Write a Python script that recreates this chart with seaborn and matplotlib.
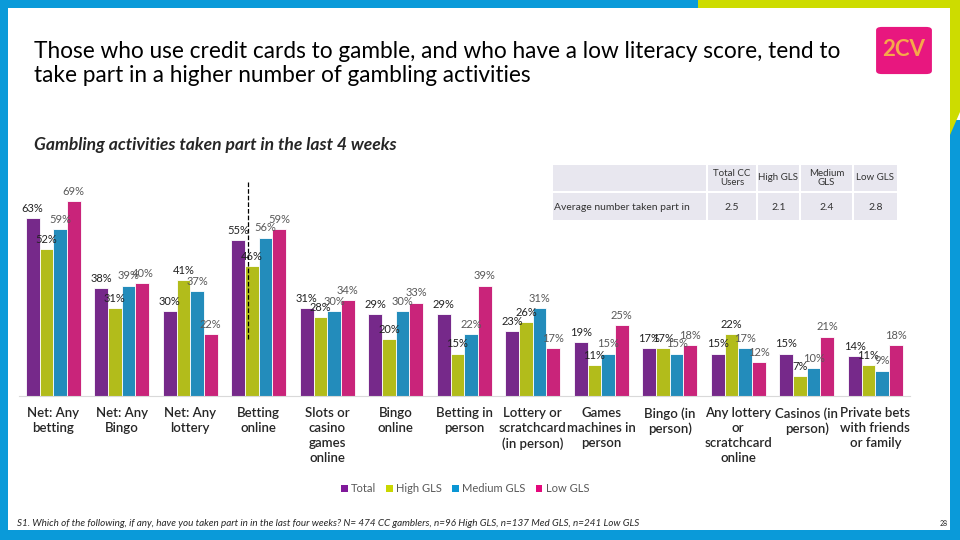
import numpy as np
import pandas as pd
import seaborn as sns
import matplotlib.pyplot as plt
from matplotlib.patches import Rectangle, Polygon, Patch, FancyBboxPatch

categorias = ["Net: Any betting", "Net: Any Bingo", "Net: Any lottery", "Betting online",
              "Slots or casino games online", "Bingo online", "Betting in person",
              "Lottery or scratchcard (in person)", "Games machines in person",
              "Bingo (in person)", "Any lottery or scratchcard online",
              "Casinos (in person)", "Private bets with friends or family"]
etiquetas = ["Net: Any\nbetting", "Net: Any\nBingo", "Net: Any\nlottery", "Betting\nonline",
             "Slots or\ncasino\ngames\nonline", "Bingo\nonline", "Betting in\nperson",
             "Lottery or\nscratchcard\n(in person)", "Games\nmachines in\nperson",
             "Bingo (in\nperson)", "Any lottery\nor\nscratchcard\nonline",
             "Casinos (in\nperson)", "Private bets\nwith friends\nor family"]
grupos = ["Total", "High GLS", "Medium GLS", "Low GLS"]
total = [63, 38, 30, 55, 31, 29, 29, 23, 19, 17, 15, 15, 14]
high_gls = [52, 31, 41, 46, 28, 20, 15, 26, 11, 17, 22, 7, 11]
medium_gls = [59, 39, 37, 56, 30, 30, 22, 31, 15, 15, 17, 10, 9]
low_gls = [69, 40, 22, 59, 34, 33, 39, 17, 25, 18, 12, 21, 18]

tabla_cols = ["Total CC\nUsers", "High GLS", "Medium\nGLS", "Low GLS"]
tabla_fila = "Average number taken part in"
promedios = [2.5, 2.1, 2.4, 2.8]

colores = ["#80199A", "#C9D700", "#0A96D4", "#E4087C"]
azul_borde = "#0A9AD9"
lima_borde = "#CDDC00"

df = pd.DataFrame({"actividad": categorias * 4,
                   "grupo": np.repeat(grupos, len(categorias)),
                   "valor": total + high_gls + medium_gls + low_gls})

sns.set_style("white")
plt.rcParams["font.family"] = ["Lato", "DejaVu Sans"]

fig = plt.figure(figsize=(9.6, 5.4), dpi=100)

def fx(x):
    return x / 960

def fy(y):
    return 1 - y / 540

ax = fig.add_axes([fx(19), fy(396), fx(890.5), 80 * 2.83 / 540])
sns.barplot(data=df, x="actividad", y="valor", hue="grupo", hue_order=grupos,
            palette=colores, width=0.8, edgecolor="white", linewidth=0.6,
            legend=False, ax=ax)
ax.set_ylim(0, 80)
ax.set_xlim(-0.5, len(categorias) - 0.5)
ax.set_xlabel("")
ax.set_ylabel("")
ax.set_yticks([])
ax.set_xticks(range(len(categorias)))
ax.set_xticklabels(etiquetas, fontsize=9.5, fontweight="semibold", linespacing=1.3)
ax.tick_params(axis="x", length=0, pad=8)
for s in ["top", "right", "left"]:
    ax.spines[s].set_visible(False)
ax.spines["bottom"].set_color("#D9D9D9")
ax.patch.set_alpha(0)

color_txt = ["#222222", "#222222", "#595959", "#595959"]
for cont, c in zip(ax.containers, color_txt):
    ax.bar_label(cont, labels=[f"{b.get_height():.0f}%" for b in cont],
                 padding=3, fontsize=8, color=c)

# separador discontinuo
ax.plot([2.84, 2.84], [20, 76], ls="--", color="black", lw=0.9)

# titulos
fig.text(fx(34), fy(63.5), "Those who use credit cards to gamble, and who have a low literacy score, tend to\n"
         "take part in a higher number of gambling activities",
         fontsize=16.3, va="center", ha="left", linespacing=1.2, color="black")
fig.text(fx(34), fy(145), "Gambling activities taken part in the last 4 weeks",
         fontsize=12.6, fontweight="bold", fontstyle="italic", va="center", ha="left")

# tabla
bordes_x = [552, 707, 757, 800, 853, 898]
filas_y = [164, 192, 221]
gris = "#E8E7EF"
for i in range(len(bordes_x) - 1):
    for j in range(2):
        x0, x1 = bordes_x[i], bordes_x[i + 1]
        y0, y1 = filas_y[j], filas_y[j + 1]
        fig.add_artist(Rectangle((fx(x0 + 1), fy(y1 - 1)), fx(x1 - x0 - 2), (y1 - y0 - 2) / 540,
                                 facecolor=gris, edgecolor="none"))
for i, (h, v) in enumerate(zip(tabla_cols, promedios)):
    cx = (bordes_x[i + 1] + bordes_x[i + 2]) / 2
    fig.text(fx(cx), fy(178), h, fontsize=7, ha="center", va="center", color="#333333", linespacing=1.1)
    fig.text(fx(cx), fy(207), f"{v:.1f}", fontsize=7.5, ha="center", va="center", color="#333333")
fig.text(fx(554), fy(207), tabla_fila, fontsize=7.5, ha="left", va="center", color="#333333")

# leyenda
handles = [Patch(facecolor=c, edgecolor="none", label=g) for c, g in zip(colores, grupos)]
fig.legend(handles=handles, loc="center", bbox_to_anchor=(fx(465), fy(489)), ncol=4,
           frameon=False, fontsize=8, handlelength=0.6, handleheight=0.6, handletextpad=0.3,
           columnspacing=0.9, labelcolor="#595959")

# pie
fig.text(fx(17), fy(524), "S1. Which of the following, if any, have you taken part in in the last four weeks? "
         "N= 474 CC gamblers, n=96 High GLS, n=137 Med GLS, n=241 Low GLS",
         fontsize=7.1, fontstyle="italic", ha="left", va="center")
fig.text(fx(944), fy(524), "28", fontsize=5, ha="center", va="center")

# logo
fig.add_artist(FancyBboxPatch((fx(878), fy(73)), fx(52), 45 / 540,
                              boxstyle="round,pad=0.002,rounding_size=0.006",
                              facecolor="#E8177F", edgecolor="none"))
fig.text(fx(904), fy(50), "2CV", fontsize=16, color="#F6A84A", ha="center", va="center",
         fontweight="bold")

# bordes de la diapositiva
fig.add_artist(Rectangle((0, 0), fx(8), 1, facecolor=azul_borde, edgecolor="none"))
fig.add_artist(Rectangle((0, 0), 1, 10 / 540, facecolor=azul_borde, edgecolor="none"))
fig.add_artist(Rectangle((0, fy(8)), fx(698), 8 / 540, facecolor=azul_borde, edgecolor="none"))
fig.add_artist(Rectangle((fx(698), fy(8)), fx(262), 8 / 540, facecolor=lima_borde, edgecolor="none"))
fig.add_artist(Rectangle((fx(950), 0), fx(10), fy(120), facecolor=azul_borde, edgecolor="none"))
fig.add_artist(Polygon([(fx(950), 1), (1, 1), (1, fy(112)), (fx(950), fy(135))],
                       closed=True, facecolor=lima_borde, edgecolor="none"))

fig.savefig("out.png", dpi=100)
